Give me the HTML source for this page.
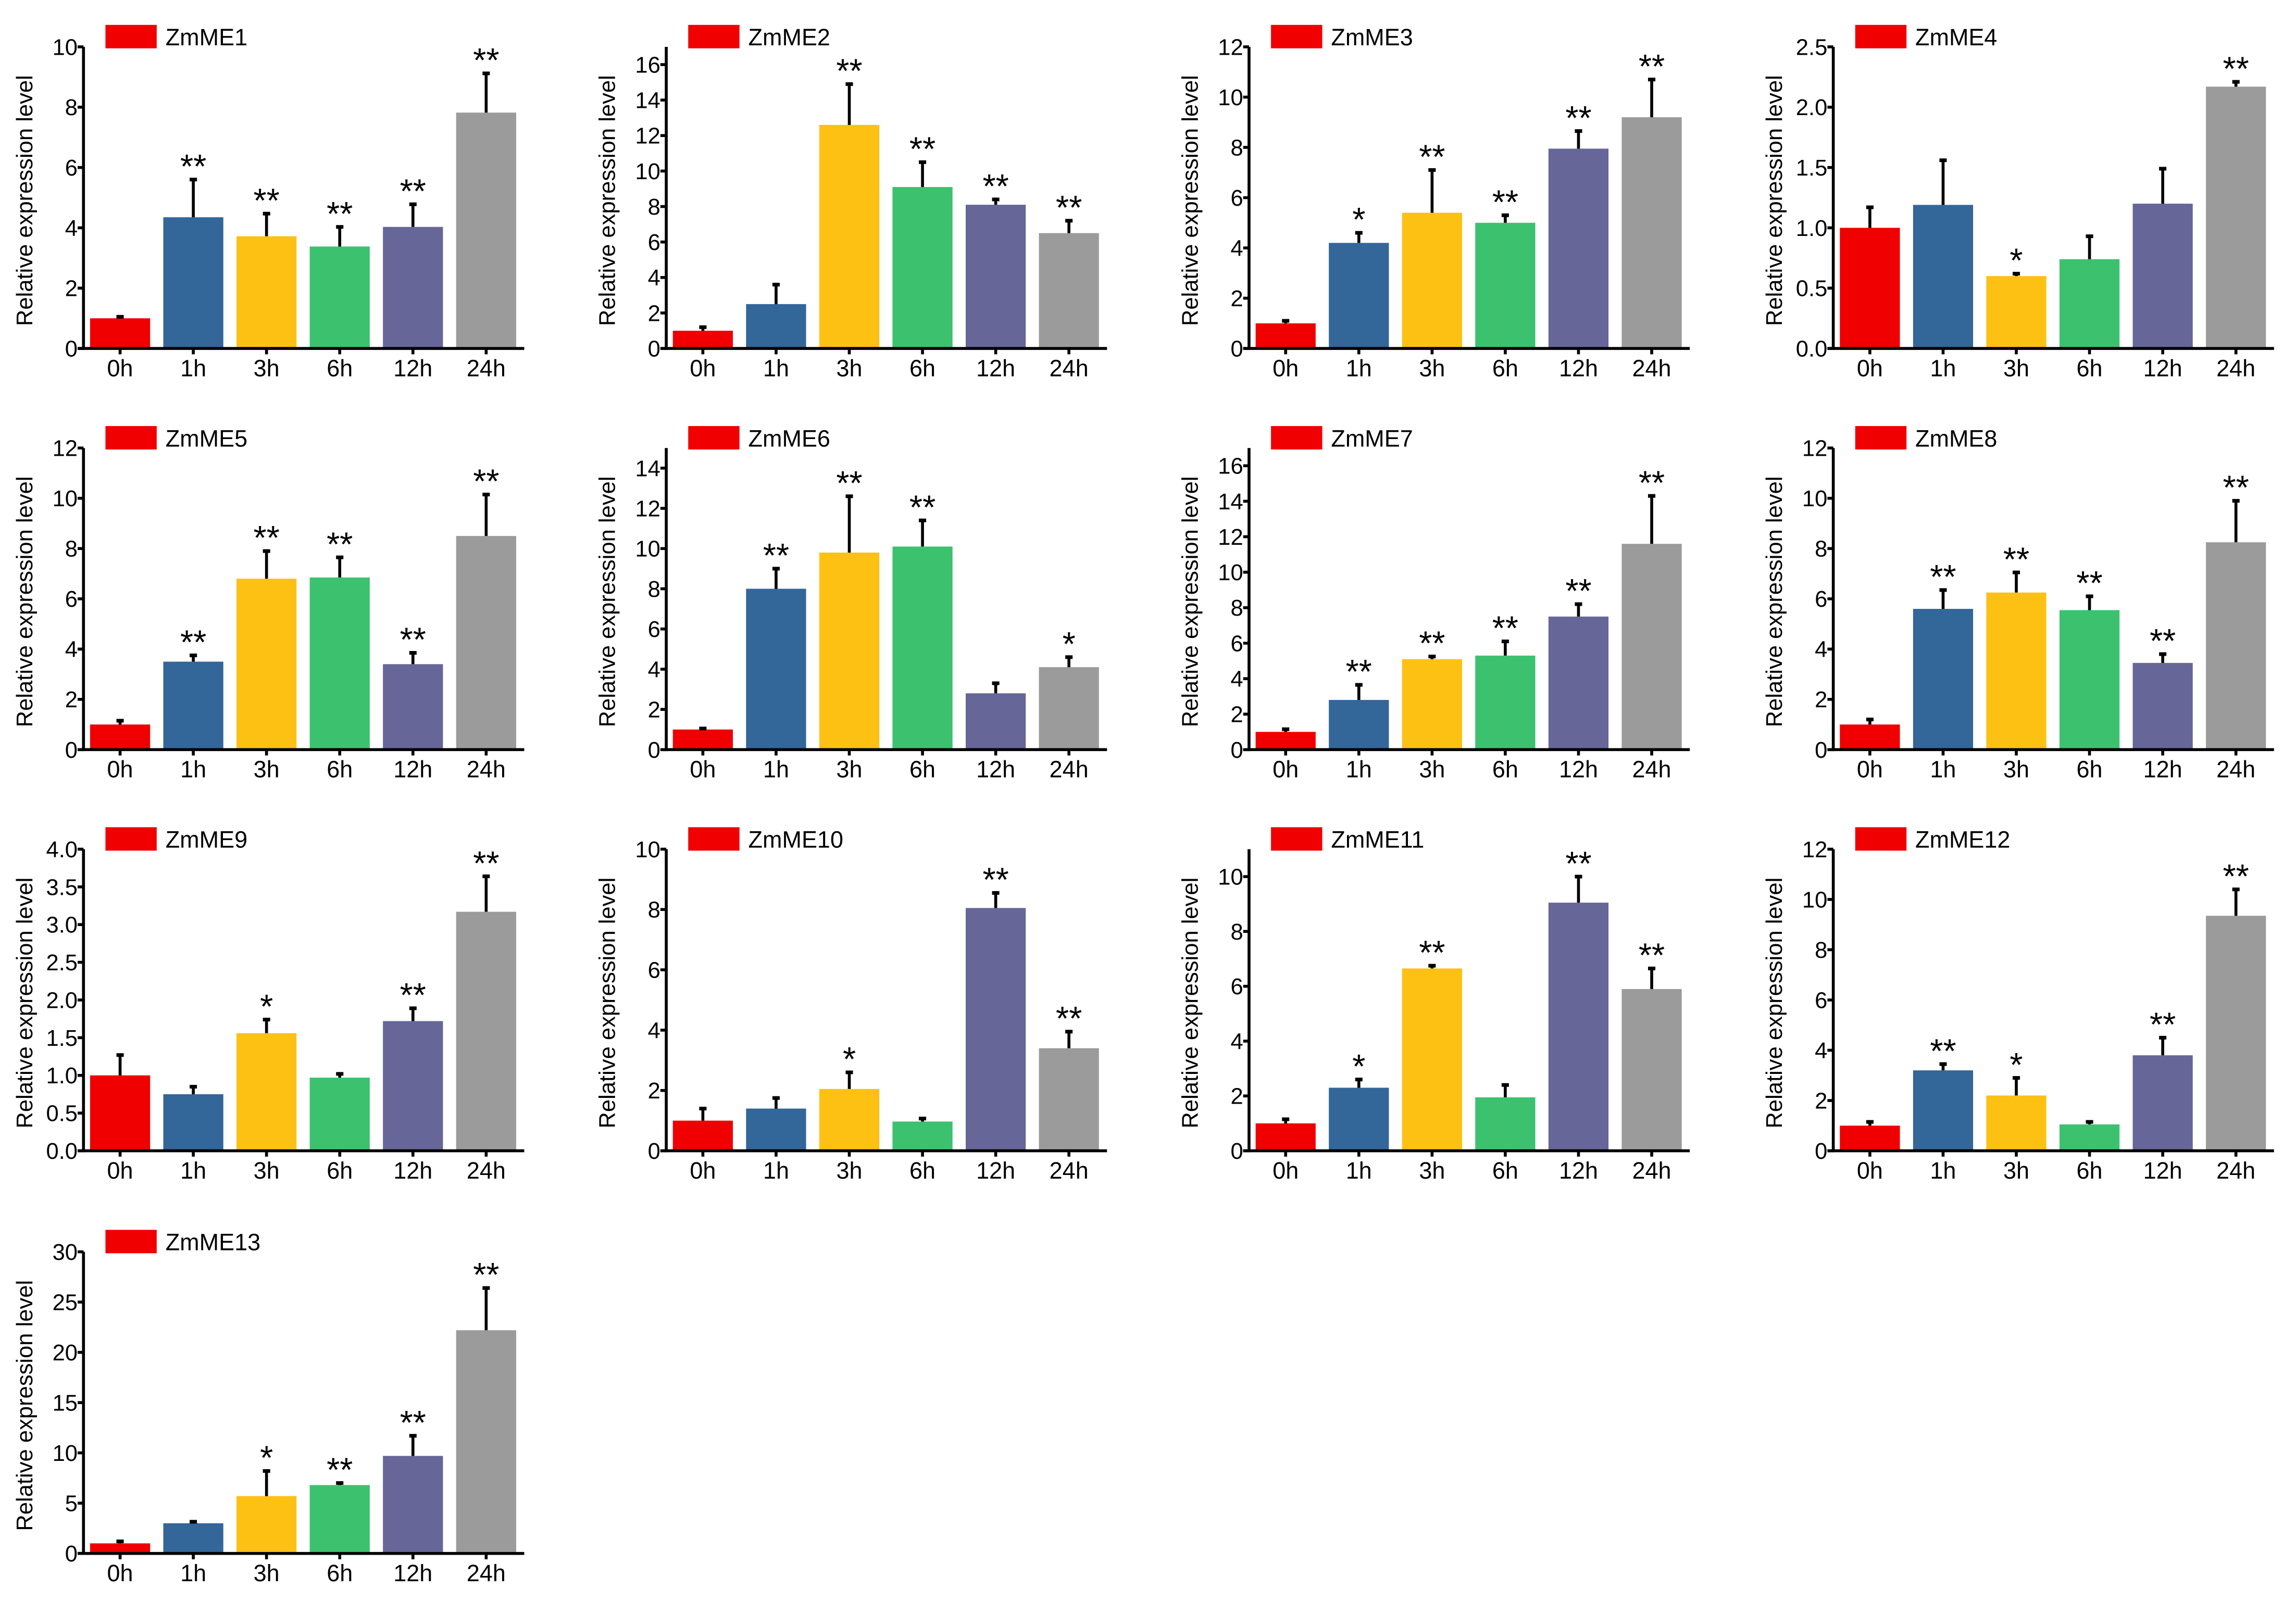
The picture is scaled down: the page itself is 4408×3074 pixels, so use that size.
<!DOCTYPE html>
<html><head><meta charset="utf-8"><style>
html,body{margin:0;padding:0;background:#fff;}
svg{display:block;font-family:"Liberation Sans",Arial,sans-serif;}
</style></head><body>
<svg id="fig" xmlns="http://www.w3.org/2000/svg" width="4408" height="3074" viewBox="0 0 1568 1093.5"></svg>
<script>
const categories = ["0h","1h","3h","6h","12h","24h"];
const geneNames = ["ZmME1","ZmME2","ZmME3","ZmME4","ZmME5","ZmME6","ZmME7","ZmME8","ZmME9","ZmME10","ZmME11","ZmME12","ZmME13"];
const meanValues = [
 [1.0,4.35,3.72,3.38,4.03,7.82],
 [1.0,2.5,12.6,9.1,8.1,6.5],
 [1.0,4.2,5.4,5.0,7.95,9.2],
 [1.0,1.19,0.6,0.74,1.2,2.17],
 [1.0,3.5,6.8,6.85,3.4,8.5],
 [1.0,8.0,9.8,10.1,2.8,4.1],
 [1.0,2.8,5.1,5.3,7.5,11.6],
 [1.0,5.6,6.25,5.55,3.45,8.25],
 [1.0,0.75,1.56,0.97,1.72,3.17],
 [1.0,1.4,2.05,0.97,8.05,3.4],
 [1.0,2.3,6.65,1.95,9.05,5.9],
 [1.0,3.2,2.2,1.05,3.8,9.35],
 [1.0,3.0,5.7,6.8,9.7,22.2]
];
const errorValues = [
 [0.05,1.25,0.75,0.65,0.75,1.3],
 [0.2,1.1,2.3,1.4,0.3,0.7],
 [0.1,0.4,1.7,0.3,0.7,1.5],
 [0.17,0.37,0.02,0.19,0.29,0.04],
 [0.15,0.25,1.1,0.8,0.45,1.65],
 [0.05,1.0,2.8,1.3,0.5,0.5],
 [0.15,0.85,0.15,0.8,0.7,2.7],
 [0.2,0.75,0.8,0.55,0.35,1.65],
 [0.27,0.1,0.18,0.05,0.17,0.47],
 [0.4,0.35,0.55,0.1,0.5,0.55],
 [0.15,0.3,0.1,0.45,0.95,0.75],
 [0.15,0.25,0.7,0.1,0.7,1.05],
 [0.2,0.15,2.5,0.2,2.0,4.2]
];
const significance = [
 ["","**","**","**","**","**"],
 ["","","**","**","**","**"],
 ["","*","**","**","**","**"],
 ["","","*","","","**"],
 ["","**","**","**","**","**"],
 ["","**","**","**","","*"],
 ["","**","**","**","**","**"],
 ["","**","**","**","**","**"],
 ["","","*","","**","**"],
 ["","","*","","**","**"],
 ["","*","**","","**","**"],
 ["","**","*","","**","**"],
 ["","","*","**","**","**"]
];
const tickMax = [10,16,12,2.5,12,14,16,12,4,10,10,12,30];
const tickStep = [2,2,2,0.5,2,2,2,2,0.5,2,2,2,5];
const axisMax = [10,17,12,2.5,12,15,17,12,4,10,11,12,30];
const tickDecimals = [0,0,0,1,0,0,0,0,1,0,0,0,0];

const colors = ["#f00000","#336699","#fdc114","#3cc26f","#666699","#9b9b9b"];
const NS = "http://www.w3.org/2000/svg";
const svg = document.getElementById("fig");
function mk(tag, attrs, parent){const e=document.createElementNS(NS,tag);for(const k in attrs)e.setAttribute(k,attrs[k]);(parent||svg).appendChild(e);return e;}

const colX = [57,455,853,1252];
const rowBase = [238,512,786,1061];
const plotH = 206;

geneNames.forEach((name,p)=>{
  const ax = colX[p%4], base = rowBase[Math.floor(p/4)];
  const g = mk("g",{});
  
  
  const yScale = v => base - v/axisMax[p]*plotH;
  const xScale = i => ax + 25 + i*50;
  const topY = base - plotH;
  meanValues[p].forEach((v,i)=>{
    const r = mk("rect",{x:xScale(i)-20.5,y:yScale(v),width:41,height:base-yScale(v),fill:colors[i]},g);
    
    
    const e = errorValues[p][i], yt = yScale(v+e);
    const l = mk("line",{x1:xScale(i),x2:xScale(i),y1:yScale(v),y2:yt,stroke:"#000","stroke-width":2},g);
    
    
    mk("line",{x1:xScale(i)-2.5,x2:xScale(i)+2.5,y1:yt,y2:yt,stroke:"#000","stroke-width":2.5},g);
    if(significance[p][i]){
      const t = mk("text",{x:xScale(i),y:yt-1,"text-anchor":"middle","font-size":23},g);
      
      
      t.textContent = significance[p][i];
    }
    const xl = mk("text",{x:xScale(i),y:base+19,"text-anchor":"middle","font-size":16},g);
    
    
    xl.textContent = categories[i];
    mk("line",{x1:xScale(i),x2:xScale(i),y1:base,y2:base+4,stroke:"#000","stroke-width":2},g);
  });
  const ya = mk("line",{x1:ax,x2:ax,y1:topY,y2:base+1,stroke:"#000","stroke-width":2},g);
  
  
  const xa = mk("line",{x1:ax-4,x2:ax+301,y1:base,y2:base,stroke:"#000","stroke-width":2},g);
  
  
  const nT = Math.round(tickMax[p]/tickStep[p]);
  for(let k=0;k<=nT;k++){
    const v = k*tickStep[p], y = yScale(v);
    mk("line",{x1:ax-4,x2:ax,y1:y,y2:y,stroke:"#000","stroke-width":2},g);
    const t = mk("text",{x:ax-4,y:y+5.5,"text-anchor":"end","font-size":15.5},g);
    
    
    t.textContent = v.toFixed(tickDecimals[p]);
  }
  const yl = mk("text",{x:0,y:0,"text-anchor":"middle","font-size":15.5,transform:`translate(${ax-35},${base-plotH/2+2}) rotate(-90)`},g);
  
  
  yl.textContent = "Relative expression level";
  const lr = mk("rect",{x:ax+15,y:topY-15,width:35,height:16,fill:colors[0]},g);
  
  
  const lt = mk("text",{x:ax+56,y:topY-1,"font-size":16},g);
  
  
  lt.textContent = name;
});
</script>
</body></html>
